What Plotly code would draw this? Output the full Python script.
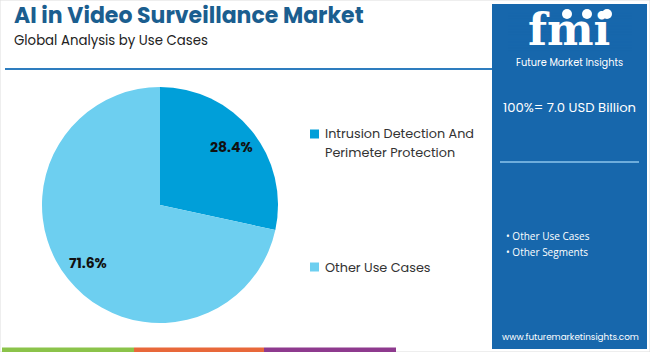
import math
import plotly.graph_objects as go

# ---- data ----
categories = ["Intrusion Detection And Perimeter Protection", "Other Use Cases"]
legend_labels = ["Intrusion Detection And<br>Perimeter Protection", "Other Use Cases"]
shares = [28.4, 71.6]
slice_colors = ["#009FD9", "#6DCFF0"]
title_text = "AI in Video Surveillance Market"
subtitle_text = "Global Analysis by Use Cases"
total_text = "100%= 7.0 USD Billion"
panel_bullets = ["Other Use Cases", "Other Segments"]
site_text = "www.futuremarketinsights.com"

W, H = 650, 352
PANEL = "#1767AC"
FONT = "Poppins, Open Sans, sans-serif"

def px(x):
    return x / W

def py(y):
    return 1 - y / H

fig = go.Figure()

cx, cy, r = 160, 205, 118
fig.add_trace(go.Pie(
    labels=categories,
    values=shares,
    marker=dict(colors=slice_colors, line=dict(width=0)),
    sort=False,
    direction="clockwise",
    rotation=0,
    textinfo="none",
    domain=dict(x=[px(cx - r), px(cx + r)], y=[py(cy + r), py(cy - r)]),
    showlegend=False,
    hoverinfo="label+percent",
))

shapes = []
annotations = []

# slice value labels, placed along each slice's mid-angle
total = sum(shares)
cum = 0.0
for v in shares:
    mid = (cum + v / 2) / total * 2 * math.pi
    cum += v
    d = 0.78 * r
    lx = cx + d * math.sin(mid)
    ly = cy - d * math.cos(mid)
    annotations.append(dict(x=px(lx), y=py(ly), xref="paper", yref="paper", xanchor="center", yanchor="middle",
                            text="<b>%.1f%%</b>" % v, showarrow=False,
                            font=dict(family=FONT, size=14, color="#111111")))

# header text
annotations.append(dict(x=px(12), y=py(16), xref="paper", yref="paper", xanchor="left", yanchor="middle",
                        text="<b>" + title_text + "</b>", showarrow=False,
                        font=dict(family=FONT, size=22, color="#1B5E8F")))
annotations.append(dict(x=px(12), y=py(41), xref="paper", yref="paper", xanchor="left", yanchor="middle",
                        text=subtitle_text, showarrow=False,
                        font=dict(family=FONT, size=13.3, color="#222222")))
# header rule
shapes.append(dict(type="line", xref="paper", yref="paper", x0=px(5), x1=px(492), y0=py(69), y1=py(69),
                   line=dict(color="#2E7DBF", width=2)))

# custom legend
legend_y = [134, 267]
for lab, col, ly in zip(legend_labels, slice_colors, legend_y):
    shapes.append(dict(type="rect", xref="paper", yref="paper", x0=px(310), x1=px(319),
                       y0=py(ly + 4.5), y1=py(ly - 4.5), fillcolor=col, line=dict(width=0)))
    lines = lab.split("<br>")
    for j, t in enumerate(lines):
        annotations.append(dict(x=px(323), y=py(ly + j * 19), xref="paper", yref="paper", xanchor="left",
                                yanchor="middle", text=t, showarrow=False, align="left",
                                font=dict(family=FONT, size=12.8, color="#333333")))

# bottom colour strip
strip = [("#8BC34A", 2, 134), ("#E8683A", 134, 264), ("#8E3A8E", 264, 396)]
for col, a, b in strip:
    shapes.append(dict(type="rect", xref="paper", yref="paper", x0=px(a), x1=px(b), y0=py(352), y1=py(347.5),
                       fillcolor=col, line=dict(width=0)))

# right panel
shapes.append(dict(type="rect", xref="paper", yref="paper", x0=px(492), x1=px(647), y0=py(349), y1=py(4),
                   fillcolor=PANEL, line=dict(width=0), layer="below"))

# logo
annotations.append(dict(x=px(569), y=py(30), xref="paper", yref="paper", xanchor="center", yanchor="middle",
                        text="<b>fmi</b>", showarrow=False,
                        font=dict(family="DejaVu Serif, serif", size=44, color="white")))
for i in range(13):
    yy = 13 + i * 3.2
    shapes.append(dict(type="line", xref="paper", yref="paper", x0=px(508), x1=px(632), y0=py(yy), y1=py(yy),
                       line=dict(color=PANEL, width=0.8)))
for gx in [567, 587, 607]:
    shapes.append(dict(type="circle", xref="paper", yref="paper", x0=px(gx - 5), x1=px(gx + 5),
                       y0=py(19), y1=py(9), fillcolor="white", line=dict(width=0)))
annotations.append(dict(x=px(569), y=py(63), xref="paper", yref="paper", xanchor="center", yanchor="middle",
                        text="Future Market Insights", showarrow=False,
                        font=dict(family=FONT, size=9.8, color="white")))

annotations.append(dict(x=px(569), y=py(107), xref="paper", yref="paper", xanchor="center", yanchor="middle",
                        text=total_text, showarrow=False,
                        font=dict(family=FONT, size=13.2, color="white")))
shapes.append(dict(type="line", xref="paper", yref="paper", x0=px(500), x1=px(639), y0=py(162), y1=py(162),
                   line=dict(color="#8CC4EC", width=1.5)))
for i, b in enumerate(panel_bullets):
    annotations.append(dict(x=px(504), y=py(236 + i * 16), xref="paper", yref="paper", xanchor="left",
                            yanchor="middle", text="• " + b, showarrow=False,
                            font=dict(family="Open Sans, sans-serif", size=10, color="white")))
annotations.append(dict(x=px(570), y=py(337), xref="paper", yref="paper", xanchor="center", yanchor="middle",
                        text=site_text, showarrow=False,
                        font=dict(family=FONT, size=8.8, color="white")))

# outer border
shapes.append(dict(type="rect", xref="paper", yref="paper", x0=0, x1=1, y0=0, y1=1,
                   line=dict(color="#DDDDDD", width=1), layer="below"))

fig.update_layout(
    width=W, height=H,
    margin=dict(l=0, r=0, t=0, b=0),
    paper_bgcolor="white",
    plot_bgcolor="white",
    shapes=shapes,
    annotations=annotations,
    showlegend=False,
)

fig.write_html("out.html")
